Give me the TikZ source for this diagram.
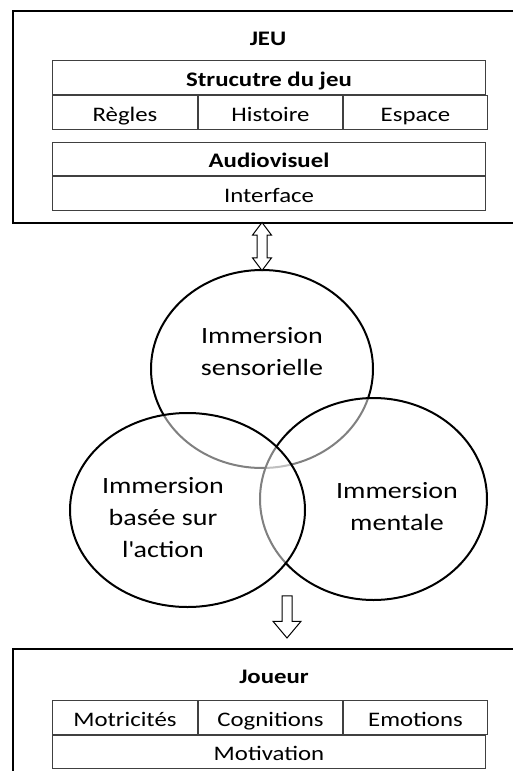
\documentclass[tikz,border=0pt]{standalone}
\usepackage{fontspec}
\setmainfont{Carlito}[FakeStretch=1.2]
\usetikzlibrary{shapes.geometric,shapes.arrows,calc}

\tikzset{
  frame/.style={draw, line width=1.5pt, anchor=north west, inner sep=0pt},
  txt/.style={font=\fontsize{15.5}{18}\selectfont, text height=12.75pt, text depth=0pt, inner sep=0pt},
  cell/.style={txt, draw=black!75, line width=0.75pt, anchor=north west,
    minimum height=34*0.75pt},
  head/.style={txt, font=\fontsize{15.5}{18}\selectfont\bfseries},
  zone/.style={draw, ellipse, line width=1.5pt, fill=white, fill opacity=0.5, inner sep=0pt},
  zonetext/.style={align=center, font=\fontsize{17.5}{24}\selectfont},
  block/.style={draw, line width=0.75pt, fill=white, inner xsep=0pt},
}

\begin{document}
\begin{tikzpicture}[x=0.75pt, y=-0.75pt]
\useasboundingbox (0,0) rectangle (513,771);

% jeu
\node[frame, minimum width=530*0.75pt, minimum height=212*0.75pt] (jeu) at (12,10) {};
\node[head] (jeutitle) at (268,36.5) {JEU};

\node[cell, head, minimum width=433*0.75pt] (struct) at (52,60) {Strucutre du jeu};
\node[cell, minimum width=145*0.75pt] (regles) at (struct.south west) {Règles};
\node[cell, minimum width=144*0.75pt] (histoire) at (regles.north east) {Histoire};
\node[cell, minimum width=144*0.75pt] (espace) at (histoire.north east) {Espace};

\node[cell, head, minimum width=433*0.75pt, minimum height=33*0.75pt] (audio) at (52,142) {Audiovisuel};
\node[cell, minimum width=433*0.75pt] (interface) at (audio.south west) {Interface};

% immersions
\node[zone, minimum width=222*0.75pt, minimum height=198*0.75pt] (sens) at (262,369) {};
\node[zone, minimum width=227*0.75pt, minimum height=202*0.75pt] (mentale) at (373.5,499) {};
\node[zone, minimum width=235*0.75pt, minimum height=194*0.75pt] (action) at (187.5,510) {};

\node[zonetext] (senstext) at (262,352) {Immersion\\sensorielle};
\node[zonetext] (mentaletext) at (397,507) {Immersion\\mentale};
\node[zonetext] (actiontext) at (163,518) {Immersion\\basée sur\\l\textquotesingle action};

% fleches
\node[block, double arrow, rotate=90, inner ysep=4.5*0.75pt,
  double arrow head extend=4.5*0.75pt, double arrow tip angle=74,
  minimum height=48*0.75pt] (echange) at ($(jeu.south -| sens.north)!0.5!(sens.north)$) {};
\coordinate (sortie) at (287,614);
\node[block, single arrow, rotate=-90, inner ysep=4.5*0.75pt,
  single arrow head extend=9*0.75pt, single arrow tip angle=80,
  minimum height=42*0.75pt] (vers) at (sortie) {};

% joueur
\node[frame, minimum width=530*0.75pt, minimum height=140*0.75pt] (joueur) at (12,648) {};
\node[head] (joueurtitle) at (274,675) {Joueur};

\node[cell, minimum width=145*0.75pt] (motricites) at (52,700) {Motricités};
\node[cell, minimum width=144*0.75pt] (cognitions) at (motricites.north east) {Cognitions};
\node[cell, minimum width=144*0.75pt] (emotions) at (cognitions.north east) {Emotions};
\node[cell, minimum width=433*0.75pt, minimum height=33*0.75pt] (motivation) at (motricites.south west) {Motivation};

\end{tikzpicture}
\end{document}
